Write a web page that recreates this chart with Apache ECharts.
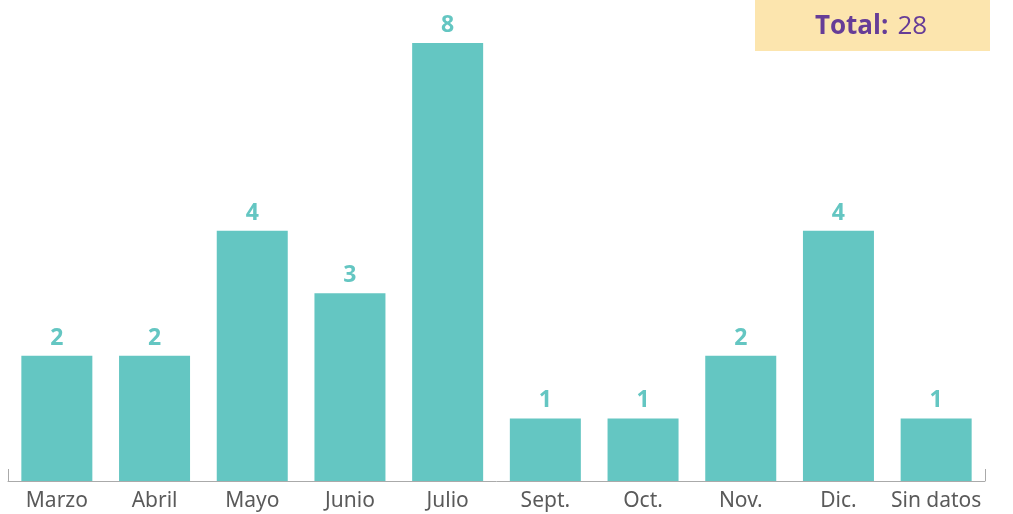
<!DOCTYPE html>
<html><head><meta charset="utf-8">
<script src="https://cdn.jsdelivr.net/npm/echarts@6/dist/echarts.min.js"></script>
<style>html,body{margin:0;padding:0;background:#fff}#c{width:1013px;height:514px}</style>
</head><body><div id="c"></div>
<script>
const categories = ['Marzo','Abril','Mayo','Junio','Julio','Sept.','Oct.','Nov.','Dic.','Sin datos'];
const values = [2,2,4,3,8,1,1,2,4,1];
const totalLabel = 'Total:';
const total = values.reduce((a,b)=>a+b,0);

const chart = echarts.init(document.getElementById('c'));
chart.setOption({
  animation:false,
  grid:{left:8,right:28,top:43,bottom:33},
  xAxis:{type:'category',data:categories,
    axisLine:{lineStyle:{color:'#aaaaaa',width:1}},
    axisTick:{show:true,inside:true,length:12,lineStyle:{color:'#aaaaaa'},
      interval:function(i){return i===0||i===categories.length;}},
    axisLabel:{interval:0,color:'#5a5a5a',fontSize:21,fontFamily:'Noto Sans',margin:10}},
  yAxis:{type:'value',min:0,max:7,show:false,splitLine:{show:false}},
  series:[{type:'bar',data:values,barWidth:71,clip:true,
    itemStyle:{color:'#64C6C2'},
    label:{show:true,position:'top',distance:6,color:'#64C6C2',fontSize:23,fontWeight:'bold',fontFamily:'Open Sans'}}],
  graphic:[{type:'group',left:755,top:0,children:[
    {type:'rect',shape:{x:0,y:0,width:235,height:51},style:{fill:'#FCE5AE'}},
    {type:'text',x:116,y:27,style:{text:'{b|'+totalLabel+'}{n|'+total+'}',align:'center',verticalAlign:'middle',
      rich:{b:{fontSize:26,fontWeight:'bold',fill:'#663D97',fontFamily:'Open Sans'},n:{fontSize:26,fill:'#663D97',fontFamily:'Open Sans',padding:[0,0,0,9]}}}}
  ]}]
});
</script></body></html>
